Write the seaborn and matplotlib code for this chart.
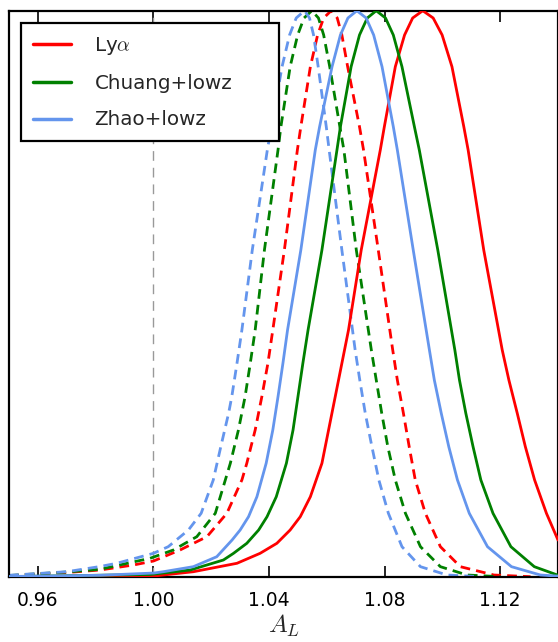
import matplotlib
matplotlib.use("Agg")
import matplotlib.pyplot as plt
import seaborn as sns
from matplotlib.lines import Line2D

sns.set_style("ticks")
plt.rcParams['font.family'] = ['DejaVu Sans']
plt.rcParams['mathtext.fontset'] = 'cm'

# ---- data (A_L, normalised posterior) ----
lya_solid_x = [0.9500, 1.0002, 1.0138, 1.0289, 1.0369, 1.0427, 1.0473, 1.0508, 1.0543, 1.0583, 1.0606,
               1.0629, 1.0652, 1.0675, 1.0719, 1.0785, 1.0799, 1.0837, 1.0869, 1.0897, 1.0932, 1.0968,
               1.0999, 1.1033, 1.1074, 1.1089, 1.1143, 1.1207, 1.1230, 1.1259, 1.1287, 1.1319, 1.1360,
               1.1400]
lya_solid_y = [0.0000, 0.0012, 0.0088, 0.0237, 0.0413, 0.0590, 0.0825, 0.1060, 0.1413, 0.2004, 0.2592,
               0.3180, 0.3770, 0.4359, 0.5772, 0.7539, 0.7951, 0.9011, 0.9571, 0.9871, 1.0000, 0.9871,
               0.9571, 0.9011, 0.7951, 0.7539, 0.5772, 0.4005, 0.3475, 0.2887, 0.2297, 0.1709, 0.1120,
               0.0648]

chuang_solid_x = [0.9500, 0.9988, 1.0127, 1.0242, 1.0277, 1.0323, 1.0364, 1.0393, 1.0425, 1.0460, 1.0483,
                  1.0500, 1.0517, 1.0535, 1.0583, 1.0635, 1.0647, 1.0684, 1.0713, 1.0740, 1.0771, 1.0803,
                  1.0830, 1.0860, 1.0903, 1.0920, 1.0984, 1.1043, 1.1059, 1.1081, 1.1106, 1.1133, 1.1175,
                  1.1237, 1.1318, 1.1398]
chuang_solid_y = [0.0002, 0.0039, 0.0118, 0.0295, 0.0413, 0.0590, 0.0825, 0.1060, 0.1413, 0.2004, 0.2592,
                  0.3180, 0.3770, 0.4359, 0.5772, 0.7539, 0.7951, 0.9011, 0.9571, 0.9871, 1.0000, 0.9871,
                  0.9571, 0.9011, 0.7951, 0.7539, 0.5772, 0.4005, 0.3475, 0.2887, 0.2297, 0.1709, 0.1120,
                  0.0530, 0.0177, 0.0030]

zhao_solid_x = [0.9500, 0.9815, 1.0002, 1.0034, 1.0138, 1.0219, 1.0272, 1.0300, 1.0329, 1.0358, 1.0390,
                1.0413, 1.0431, 1.0448, 1.0464, 1.0510, 1.0560, 1.0575, 1.0618, 1.0647, 1.0673, 1.0704,
                1.0736, 1.0762, 1.0791, 1.0830, 1.0844, 1.0899, 1.0955, 1.0972, 1.0996, 1.1022, 1.1052,
                1.1093, 1.1156, 1.1239, 1.1339, 1.1402]
zhao_solid_y = [0.0004, 0.0025, 0.0065, 0.0088, 0.0177, 0.0353, 0.0648, 0.0825, 0.1060, 0.1413, 0.2004,
                0.2592, 0.3180, 0.3770, 0.4359, 0.5772, 0.7539, 0.7951, 0.9011, 0.9571, 0.9871, 1.0000,
                0.9871, 0.9571, 0.9011, 0.7951, 0.7539, 0.5772, 0.4005, 0.3475, 0.2887, 0.2297, 0.1709,
                0.1120, 0.0530, 0.0177, 0.0030, 0.0009]

lya_dash_x = [0.9500, 0.9700, 0.9815, 0.9931, 1.0000, 1.0092, 1.0185, 1.0254, 1.0306, 1.0323, 1.0352,
              1.0375, 1.0396, 1.0413, 1.0453, 1.0498, 1.0510, 1.0543, 1.0568, 1.0589, 1.0615, 1.0636,
              1.0652, 1.0672, 1.0713, 1.0727, 1.0778, 1.0828, 1.0844, 1.0865, 1.0885, 1.0906, 1.0941,
              1.0993, 1.1062, 1.1178, 1.1305]
lya_dash_y = [0.0018, 0.0074, 0.0118, 0.0207, 0.0277, 0.0472, 0.0707, 0.1120, 0.1709, 0.2004, 0.2592,
              0.3180, 0.3770, 0.4359, 0.5772, 0.7539, 0.7951, 0.9011, 0.9571, 0.9871, 1.0000, 0.9871,
              0.9571, 0.9011, 0.7951, 0.7539, 0.5772, 0.4005, 0.3475, 0.2887, 0.2297, 0.1709, 0.1120,
              0.0530, 0.0177, 0.0030, 0.0000]

chuang_dash_x = [0.9500, 0.9700, 0.9815, 0.9988, 1.0069, 1.0150, 1.0214, 1.0266, 1.0294, 1.0317, 1.0335,
                 1.0352, 1.0384, 1.0431, 1.0441, 1.0473, 1.0499, 1.0521, 1.0548, 1.0571, 1.0589, 1.0610,
                 1.0645, 1.0659, 1.0702, 1.0754, 1.0771, 1.0790, 1.0811, 1.0837, 1.0872, 1.0924, 1.0993,
                 1.1085, 1.1201]
chuang_dash_y = [0.0021, 0.0083, 0.0131, 0.0325, 0.0472, 0.0707, 0.1120, 0.2004, 0.2592, 0.3180, 0.3770,
                 0.4359, 0.5772, 0.7539, 0.7951, 0.9011, 0.9571, 0.9871, 1.0000, 0.9871, 0.9571, 0.9011,
                 0.7951, 0.7539, 0.5772, 0.4005, 0.3475, 0.2887, 0.2297, 0.1709, 0.1120, 0.0530, 0.0177,
                 0.0030, 0.0000]

zhao_dash_x = [0.9500, 0.9700, 0.9815, 0.9873, 1.0000, 1.0051, 1.0121, 1.0165, 1.0207, 1.0233, 1.0260,
               1.0271, 1.0289, 1.0306, 1.0342, 1.0394, 1.0445, 1.0471, 1.0494, 1.0523, 1.0540, 1.0554,
               1.0570, 1.0598, 1.0608, 1.0652, 1.0698, 1.0714, 1.0733, 1.0756, 1.0780, 1.0813, 1.0860,
               1.0924, 1.1016, 1.1131]
zhao_dash_y = [0.0025, 0.0088, 0.0180, 0.0237, 0.0413, 0.0530, 0.0825, 0.1120, 0.1709, 0.2297, 0.2887,
               0.3180, 0.3770, 0.4359, 0.5772, 0.7539, 0.9011, 0.9571, 0.9871, 1.0000, 0.9871, 0.9571,
               0.9011, 0.7951, 0.7539, 0.5772, 0.4005, 0.3475, 0.2887, 0.2297, 0.1709, 0.1120, 0.0530,
               0.0177, 0.0030, 0.0000]

labels = [r"Ly$\alpha$", "Chuang+lowz", "Zhao+lowz"]
colors = ["#ff0000", "#008000", "#6495ed"]
xticks = [0.96, 1.00, 1.04, 1.08, 1.12]
xtick_labels = ["0.96", "1.00", "1.04", "1.08", "1.12"]

# ---- figure ----
fig = plt.figure(figsize=(5.58, 6.42), dpi=100)
ax = fig.add_axes([9 / 558, 65.3 / 642, 549 / 558, 566 / 642])

ax.axvline(1.0, color="#999999", lw=1.0, linestyle=(0, (7, 5)), zorder=1)

solids = [(lya_solid_x, lya_solid_y), (chuang_solid_x, chuang_solid_y), (zhao_solid_x, zhao_solid_y)]
dashes = [(lya_dash_x, lya_dash_y), (chuang_dash_x, chuang_dash_y), (zhao_dash_x, zhao_dash_y)]

for (xs, ys), c in zip(dashes, colors):
    sns.lineplot(x=xs, y=ys, ax=ax, color=c, lw=2.0, linestyle=(0, (3.5, 2.2)),
                 estimator=None, sort=False, zorder=2)
for (xs, ys), c in zip(solids, colors):
    sns.lineplot(x=xs, y=ys, ax=ax, color=c, lw=2.0, estimator=None, sort=False, zorder=3)

ax.set_xlim(0.95, 1.14)
ax.set_ylim(0, 1.0)
ax.set_xticks(xticks)
ax.set_xticklabels(xtick_labels)
ax.set_yticks([])
ax.tick_params(axis="x", direction="in", length=8, width=1.2, top=True, bottom=True,
               labelsize=13.5, pad=10, colors="black")
for s in ax.spines.values():
    s.set_linewidth(1.6)
    s.set_color("black")
ax.set_xlabel(r"$A_L$", fontsize=18, labelpad=2)

handles = [Line2D([0], [0], color=c, lw=2.5) for c in colors]
leg = ax.legend(handles, labels, loc="upper left",
                bbox_to_anchor=(12 / 549, 0, 258 / 549, (576.7 - 23) / 566), mode="expand",
                borderaxespad=0, fontsize=14.3, frameon=True, fancybox=False, framealpha=1,
                edgecolor="black", handlelength=1.9, handletextpad=1.2, labelspacing=0.87,
                borderpad=0.6)
leg.get_frame().set_linewidth(1.6)
leg.set_zorder(5)

fig.savefig("out.png", dpi=100)
